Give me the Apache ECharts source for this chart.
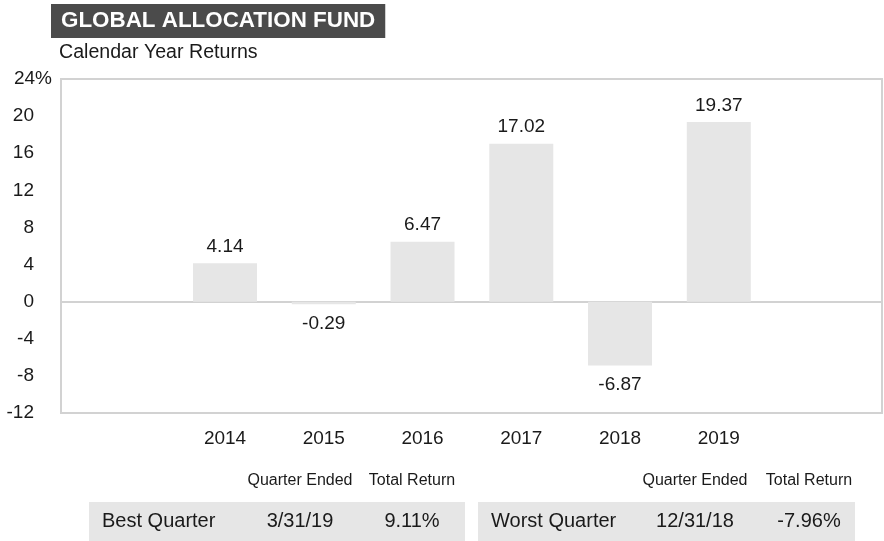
<!DOCTYPE html>
<html>
<head>
<meta charset="utf-8">
<script src="https://cdn.jsdelivr.net/npm/echarts@6/dist/echarts.min.js"></script>
<style>
  html, body { margin: 0; padding: 0; background: #fff; }
  #chart { width: 884px; height: 541px; }
</style>
</head>
<body>
<div id="chart"></div>
<script>
// Calendar-year returns (%)
const years = ['2014', '2015', '2016', '2017', '2018', '2019'];
const returns = [4.14, -0.29, 6.47, 17.02, -6.87, 19.37];

// Value axis range and step
const yMin = -12;
const yMax = 24;
const yStep = 4;

// Best / worst quarter table
const tableHeaders = ['Quarter Ended', 'Total Return'];
const bestQuarter = ['Best Quarter', '3/31/19', '9.11%'];
const worstQuarter = ['Worst Quarter', '12/31/18', '-7.96%'];

const FONT = '"Liberation Sans", Arial, Helvetica, sans-serif';
const INK = '#1a1a1a';
const RULE = '#d2d2d2';
const FILL = '#e6e6e6';

// One empty slot on each side of the years
const slots = [''].concat(years, ['']);
const barData = ['-'].concat(returns.map(v => ({
  value: v,
  label: v < 0 ? { position: 'bottom', distance: 10 } : { position: 'top', distance: 7 }
})), ['-']);

const chart = echarts.init(document.getElementById('chart'), null, { renderer: 'canvas' });

function tableGroup(x0, x1, midA, midB, row) {
  return [
    { type: 'rect', shape: { x: x0, y: 502, width: x1 - x0, height: 39 }, style: { fill: FILL }, silent: true },
    { type: 'text', x: midA, y: 481, style: { text: tableHeaders[0], font: '16px ' + FONT, fill: INK, align: 'center', verticalAlign: 'middle' } },
    { type: 'text', x: midB, y: 481, style: { text: tableHeaders[1], font: '16px ' + FONT, fill: INK, align: 'center', verticalAlign: 'middle' } },
    { type: 'text', x: x0 + 13, y: 521, style: { text: row[0], font: '20px ' + FONT, fill: INK, align: 'left', verticalAlign: 'middle' } },
    { type: 'text', x: midA, y: 521, style: { text: row[1], font: '20px ' + FONT, fill: INK, align: 'center', verticalAlign: 'middle' } },
    { type: 'text', x: midB, y: 521, style: { text: row[2], font: '20px ' + FONT, fill: INK, align: 'center', verticalAlign: 'middle' } }
  ];
}

chart.setOption({
  animation: false,
  backgroundColor: '#ffffff',
  textStyle: { fontFamily: FONT },
  title: [
    {
      text: 'GLOBAL ALLOCATION FUND',
      left: 51, top: 4,
      backgroundColor: '#4b4b4b',
      padding: [5, 10, 5, 10],
      textStyle: { color: '#ffffff', fontSize: 22.4, fontWeight: 'bold', fontFamily: FONT, lineHeight: 24 }
    },
    {
      text: 'Calendar Year Returns',
      left: 59, top: 42,
      padding: 0,
      textStyle: { color: INK, fontSize: 19.6, fontWeight: 'normal', fontFamily: FONT, lineHeight: 22 }
    }
  ],
  grid: [
    // bars
    { left: 76.9, right: 17.1, top: 79, bottom: 128, show: false },
    // frame, zero line and value labels
    { left: 61, right: 2, top: 79, bottom: 128, show: true, borderColor: RULE, borderWidth: 2, backgroundColor: 'transparent' }
  ],
  xAxis: [
    {
      gridIndex: 0, type: 'category', data: slots,
      axisLine: { show: false }, axisTick: { show: false },
      axisLabel: { color: INK, fontSize: 19, margin: 16, fontFamily: FONT, interval: 0 }
    },
    {
      gridIndex: 1, type: 'category', data: slots,
      axisLine: { show: true, onZero: true, lineStyle: { color: RULE, width: 2 } },
      axisTick: { show: false }, axisLabel: { show: false }
    }
  ],
  yAxis: [
    { gridIndex: 0, type: 'value', min: yMin, max: yMax, interval: yStep, show: false },
    {
      gridIndex: 1, type: 'value', min: yMin, max: yMax, interval: yStep,
      axisLine: { show: false }, axisTick: { show: false }, splitLine: { show: false },
      axisLabel: {
        // plain numbers leave room on the right so the top label's % hangs past them
        margin: 9,
        formatter: v => v === yMax ? '{a|' + v + '%}' : '{b|' + v + '}',
        rich: {
          a: { color: INK, fontSize: 19, fontFamily: FONT },
          b: { color: INK, fontSize: 19, fontFamily: FONT, padding: [0, 18, 0, 0] }
        }
      }
    }
  ],
  series: [
    {
      type: 'bar', xAxisIndex: 0, yAxisIndex: 0,
      data: barData, barWidth: 64,
      itemStyle: { color: FILL },
      label: {
        show: true, color: INK, fontSize: 19, fontFamily: FONT,
        formatter: p => Number(p.value).toFixed(2)
      },
      emphasis: { disabled: true }
    }
  ],
  graphic: tableGroup(89, 465, 300, 412, bestQuarter).concat(tableGroup(478, 855, 695, 809, worstQuarter))
});
</script>
</body>
</html>
